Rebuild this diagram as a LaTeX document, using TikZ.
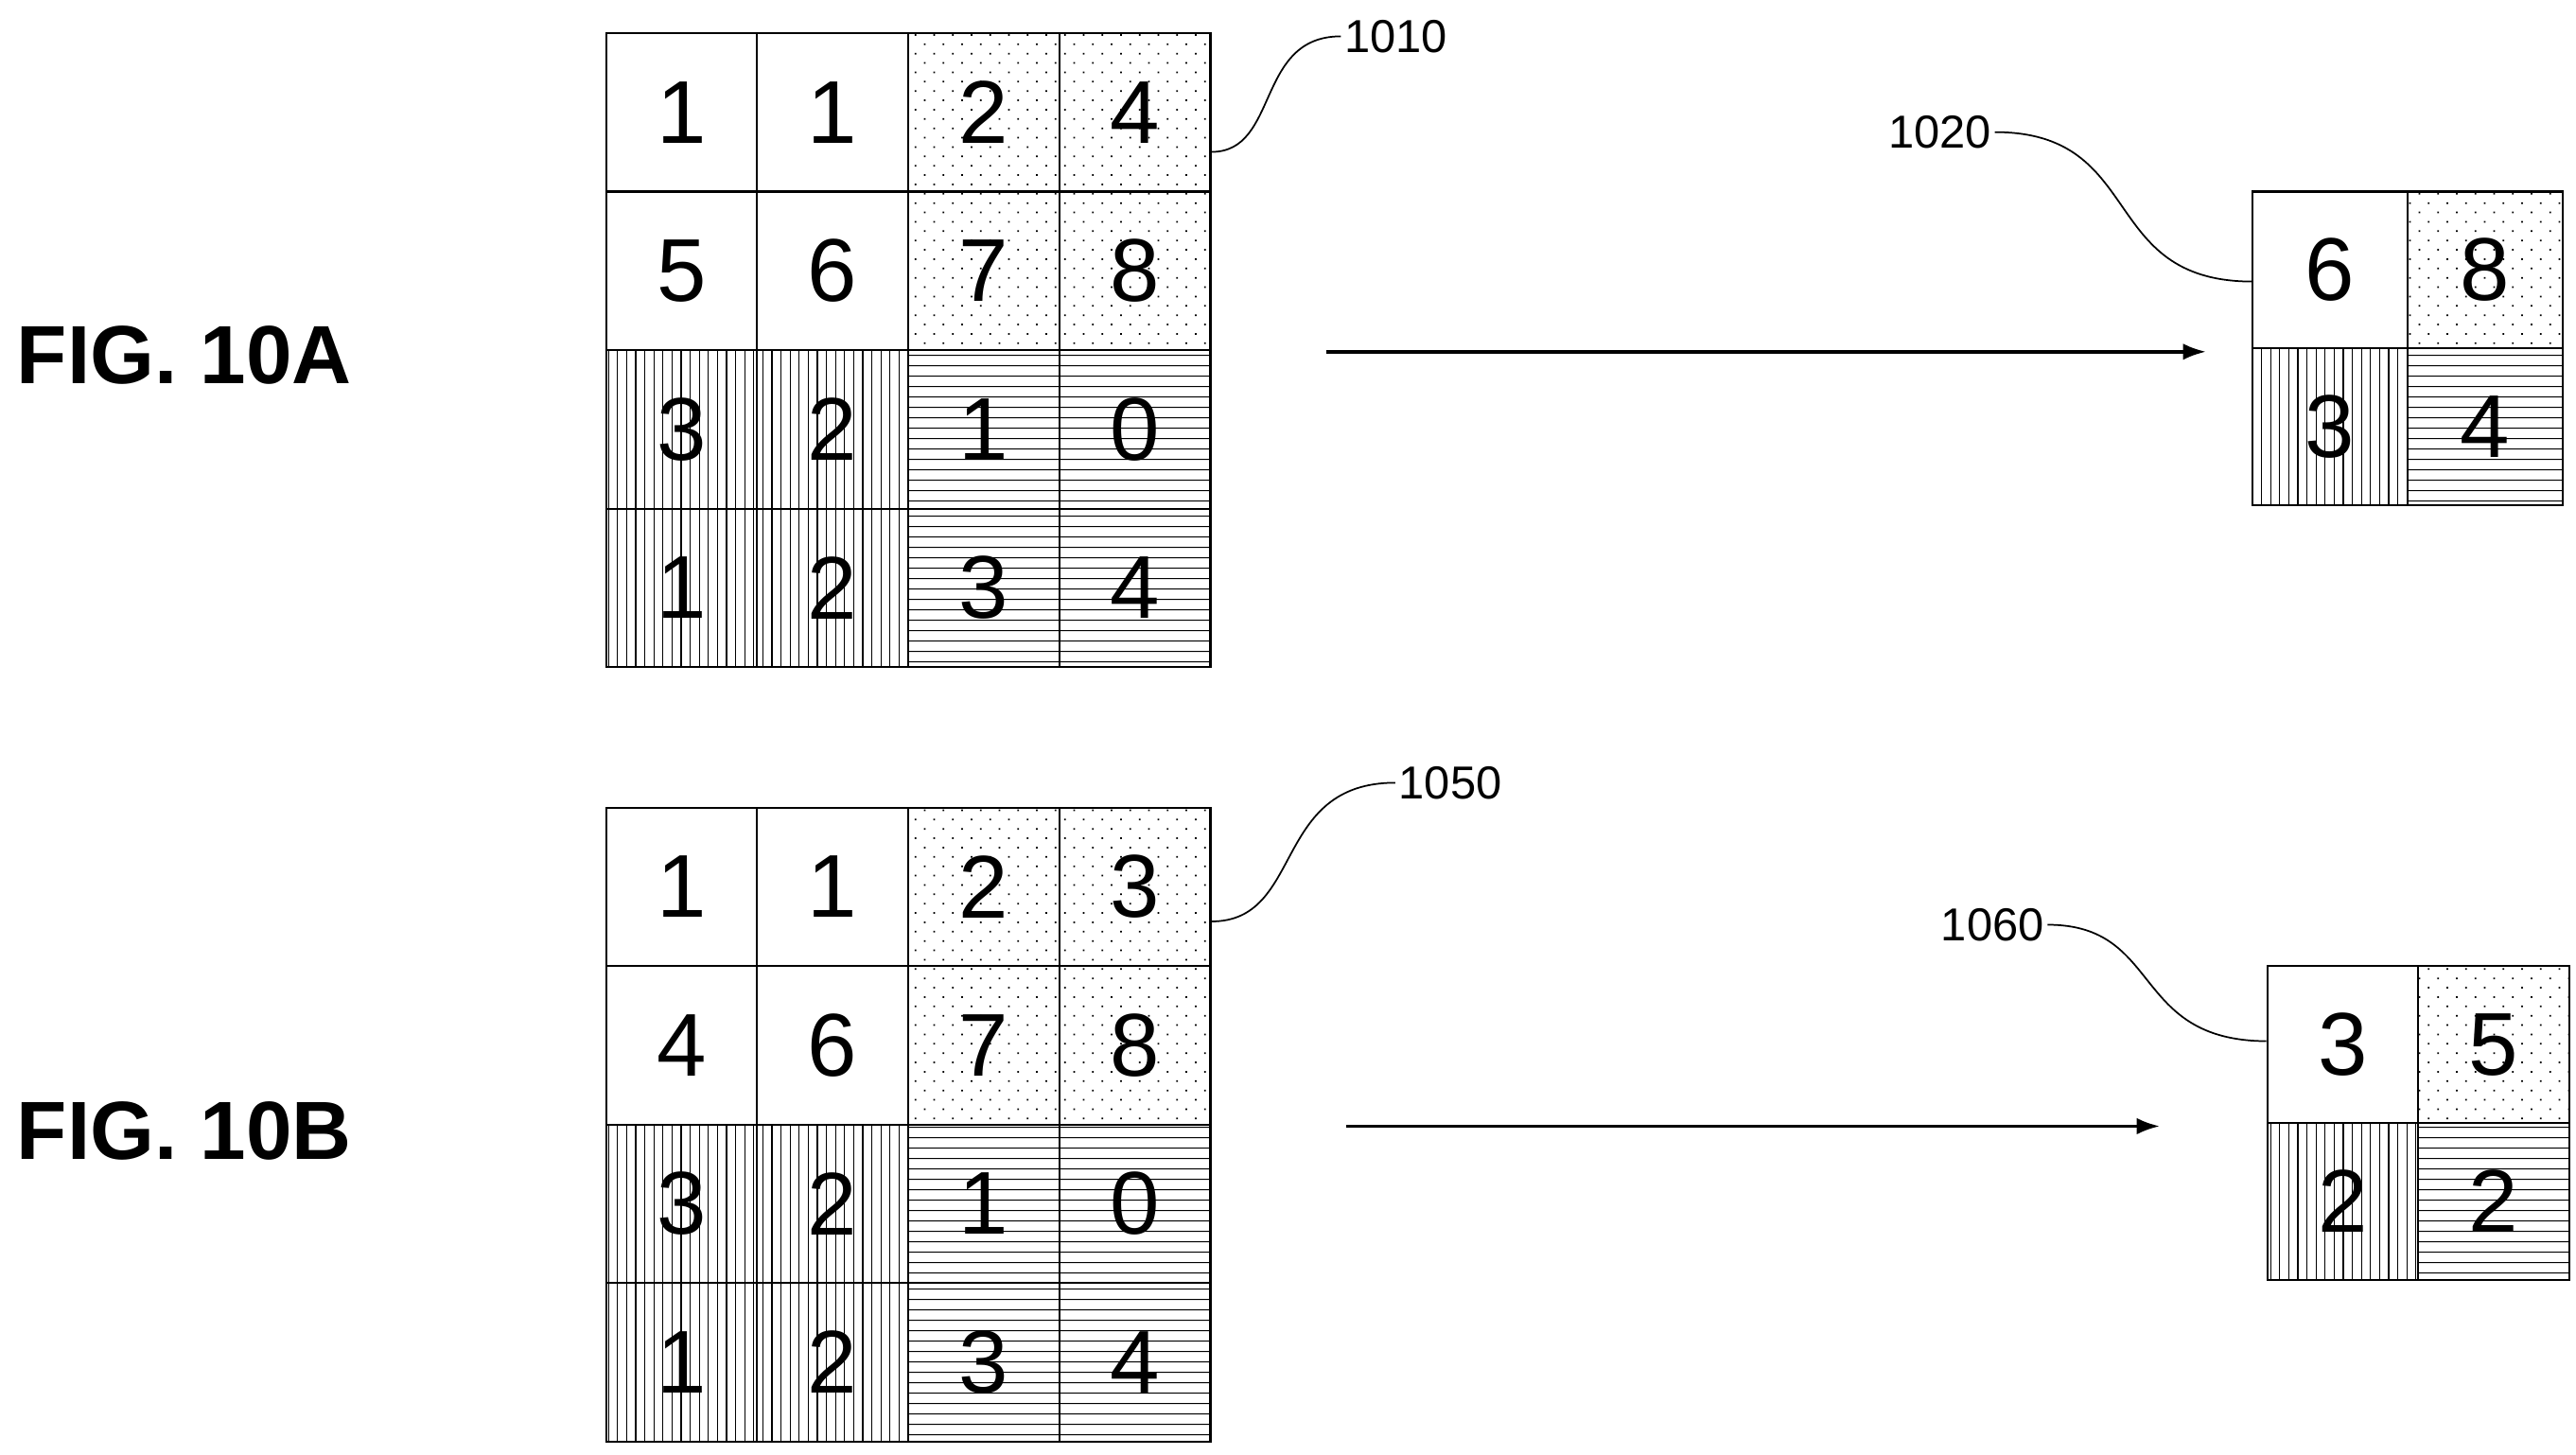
\documentclass[tikz,border=0pt]{standalone}
\usepackage{fontspec}
\setmainfont{Liberation Sans}
\usetikzlibrary{patterns.meta,calc,arrows.meta}

\tikzset{
  cell/.style={rectangle,draw=black,line width=1.2pt,minimum width=91.5pt,minimum height=96pt,inner sep=0pt,font=\fontsize{54}{54}\selectfont},
  q0/.style={cell},
  q1/.style={cell,pattern={Dots[distance=8pt,radius=0.7pt,angle=45]}},
  q2/.style={cell,pattern={Lines[angle=90,distance=5.5pt,line width=0.7pt]}},
  q3/.style={cell,pattern={Lines[angle=0,distance=6.5pt,line width=0.7pt]}},
  small/.style={cell,minimum width=94pt,minimum height=95pt},
  refnum/.style={font=\fontsize{28}{28}\selectfont,inner sep=2pt},
  figlabel/.style={font=\fontsize{50}{50}\selectfont\bfseries,anchor=west,inner sep=0pt},
  lead/.style={line width=1pt},
  arr/.style={line width=2pt,-{Latex[length=14pt,width=10pt]}}
}

\begin{document}
\begin{tikzpicture}[x=1pt,y=-1pt]
\useasboundingbox (0,0) rectangle (1560,881);

% big grids
\foreach \d [count=\i from 0] in {1,1,2,4,5,6,7,8,3,2,1,0,1,2,3,4}{
  \pgfmathtruncatemacro\c{mod(\i,4)}
  \pgfmathtruncatemacro\r{int(\i/4)}
  \pgfmathtruncatemacro\q{2*(\r>1)+(\c>1)}
  \node[q\q](a-\i) at (367+45.75+91.5*\c,20+48+96*\r) {\d};
}
\foreach \d [count=\i from 0] in {1,1,2,3,4,6,7,8,3,2,1,0,1,2,3,4}{
  \pgfmathtruncatemacro\c{mod(\i,4)}
  \pgfmathtruncatemacro\r{int(\i/4)}
  \pgfmathtruncatemacro\q{2*(\r>1)+(\c>1)}
  \node[q\q](b-\i) at (367+45.75+91.5*\c,489+48+96*\r) {\d};
}

% small grids
\foreach \d [count=\i from 0] in {6,8,3,4}{
  \pgfmathtruncatemacro\c{mod(\i,2)}
  \pgfmathtruncatemacro\r{int(\i/2)}
  \pgfmathtruncatemacro\q{2*\r+\c}
  \node[q\q,small](oa-\i) at (1364+47+94*\c,116+47.5+95*\r) {\d};
}
\foreach \d [count=\i from 0] in {3,5,2,2}{
  \pgfmathtruncatemacro\c{mod(\i,2)}
  \pgfmathtruncatemacro\r{int(\i/2)}
  \pgfmathtruncatemacro\q{2*\r+\c}
  \node[q\q,small,minimum width=91.5pt](ob-\i) at (1373+45.75+91.5*\c,585+47.5+95*\r) {\d};
}

\node[figlabel](figa) at (10,215) {FIG. 10A};
\node[figlabel](figb) at (10,685) {FIG. 10B};

% arrows
\coordinate (sa) at (803,213);
\coordinate (ea) at (1336,213);
\coordinate (sb) at (815,682);
\coordinate (eb) at (1308,682);
\draw[arr] (sa) -- (ea);
\draw[arr] (sb) -- (eb);

% reference numerals
\node[refnum,anchor=west](r1010) at (812,22) {1010};
\node[refnum,anchor=east](r1020) at (1208,80) {1020};
\node[refnum,anchor=west](r1050) at (845,474) {1050};
\node[refnum,anchor=east](r1060) at (1240,560) {1060};

\draw[lead] ($(a-3.east)+(0,24)$) .. controls (775,92) and (760,22) .. (r1010.west);
\draw[lead] (r1020.east) .. controls (1300,80) and (1270,170) .. ($(oa-0.west)+(0,7)$);
\draw[lead] ($(b-3.east)+(0,21)$) .. controls (790,558) and (770,474) .. (r1050.west);
\draw[lead] (r1060.east) .. controls (1310,560) and (1290,630) .. ($(ob-0.west)+(0,-2)$);
\end{tikzpicture}
\end{document}
